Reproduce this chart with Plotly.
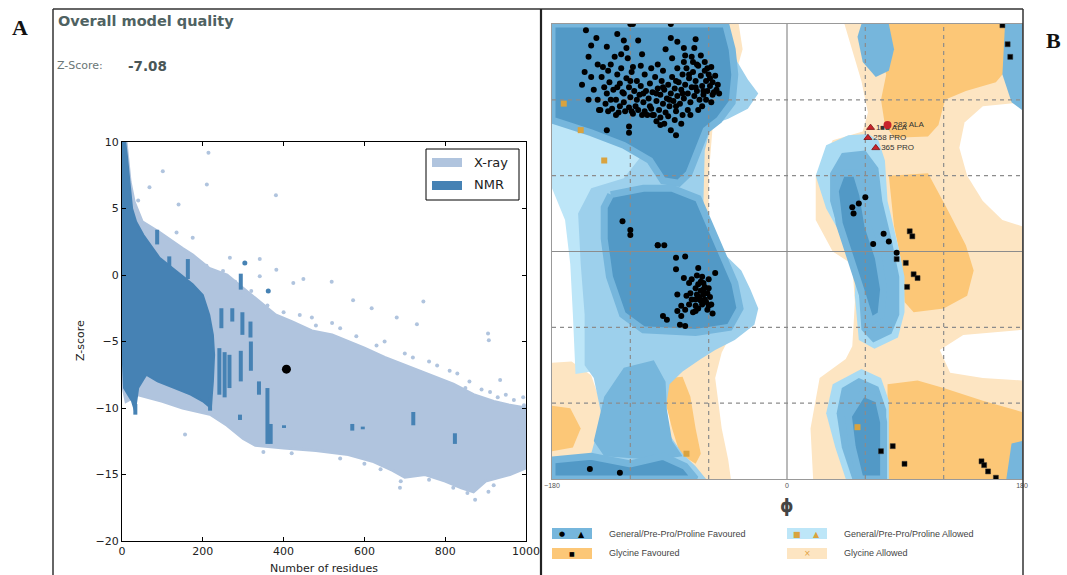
import plotly.graph_objects as go

W, H = 1067, 575

# ---------------- Panel A data (Z-score vs number of residues) ----------------
XRAY_UP_X = [0, 10, 20, 30, 50, 93, 150, 175, 216, 260, 300, 340, 380, 420, 470, 520, 560, 600, 650, 700, 760, 820, 870, 920, 960, 1000]
XRAY_UP_Y = [10, 10, 7, 5.5, 4, 3.2, 2, 1.5, 0.5, 0, -1, -2, -3, -3.5, -4.2, -4.5, -5, -5.5, -6.2, -6.8, -7.5, -8.2, -9, -9.5, -9.8, -10]
XRAY_LO_X = [1000, 960, 900, 870, 840, 800, 750, 700, 670, 620, 560, 480, 400, 330, 300, 260, 220, 150, 100, 40, 10, 0]
XRAY_LO_Y = [-14.5, -15, -15.5, -16.3, -16, -15.5, -15, -15.2, -14.7, -14, -13.5, -13.2, -13, -12.8, -12.3, -11.3, -10.5, -10, -9.5, -9, -9.5, -8]

NMR_X = [0, 8, 12, 18, 25, 35, 53, 93, 134, 175, 200, 216, 225, 228, 225, 220, 200, 170, 130, 88, 60, 40, 32, 25, 15, 5, 0]
NMR_Y = [10, 10, 9, 7, 5, 4, 3, 1.3, 0.3, -0.7, -1.5, -3, -4.5, -6, -8, -10, -9.5, -9, -8.5, -8, -7.5, -8.5, -10.2, -9.5, -9, -8.5, -5]

STREAK_X = [87, 117, 163, 294, 273, 298, 318, 246, 241, 254, 266, 294, 319, 339, 360, 368, 292, 218, 33, 570, 596, 401, 721, 824]
STREAK_TOP = [3.4, 1.4, 1.2, 0.1, -2.5, -2.8, -3.5, -2.5, -5.5, -5.8, -6, -5.7, -5, -8, -8.5, -11.2, -10.5, -9.2, -9.7, -11.2, -11.4, -11.3, -10.3, -11.9]
STREAK_BOT = [2.3, 0.4, -0.3, -1.1, -3.5, -4.5, -4.7, -4.0, -9, -9.2, -8.5, -8, -7.2, -9, -12.7, -12.7, -10.9, -10.2, -10.5, -11.7, -11.6, -11.5, -11.3, -12.7]

OUT_X = [214, 101, 68, 210, 381, 40, 140, 175, 135, 209, 267, 341, 382, 341, 424, 449, 519, 572, 618, 746, 680, 730, 906, 908,
         156, 688, 737, 811, 911, 936, 993, 907, 874, 688, 795, 300, 470, 520, 650, 760, 860, 950, 980,
         250, 280, 320, 360, 400, 440, 480, 540, 580, 630, 700, 720, 780, 830, 850, 890, 930, 970, 995,
         540, 600, 640, 690, 710, 760, 820, 855, 880, 920, 945, 985, 1000, 350, 420]
OUT_Y = [9.2, 7.8, 6.6, 6.8, 6.0, 5.6, 5.3, 2.8, 3.2, 0.7, 1.3, 1.2, 0.4, -0.1, -0.6, -0.3, -0.5, -1.9, -2.5, -2.0, -3.2, -3.7, -4.4, -4.9,
         -12.0, -7.2, -7.3, -7.2, -8.8, -7.9, -9.2, -16.3, -16.9, -16.0, -15.3, -1.5, -3.2, -3.6, -5.0, -6.5, -8.0, -9.0, -11.5,
         0.3, -0.5, -1.2, -2.3, -2.8, -3.0, -3.8, -4.0, -4.6, -5.3, -5.9, -6.2, -6.8, -7.4, -8.5, -8.6, -9.2, -9.4, -9.8,
         -13.8, -14.2, -14.6, -15.5, -15.0, -15.4, -16.0, -16.4, -15.8, -15.8, -15.0, -14.6, -14.0, -13.3, -13.4]
NMR_OUT_X = [304, 362]
NMR_OUT_Y = [0.9, -1.2]

MODEL_X = [407]
MODEL_Y = [-7.08]

A_XTICKS = [0, 200, 400, 600, 800, 1000]
A_YTICKS = [10, 5, 0, -5, -10, -15, -20]

# ---------------- Panel B data (Ramachandran plot) ----------------
GA_RIGHT = [(44, 180), (180, 180), (180, -180), (20, -180), (18, -140), (25, -100), (45, -85), (50, -75), (52, -40), (50, -10),
            (35, 0), (22, 25), (22, 60), (35, 88), (58, 95), (62, 110), (57, 135), (50, 160)]
GA_LEFT = [(-56, 180), (-37, 180), (-34, 160), (-45, 120), (-57, 98), (-60, 60), (-60, 20), (-50, -20), (-40, -60), (-50, -80),
           (-55, -100), (-50, -140), (-45, -165), (-43, -180), (-90, -180), (-90, 180)]
GA_LEFT_BOTTOM = [(-180, -88), (-165, -87), (-150, -98), (-140, -128), (-146, -160), (-180, -166)]
WHITE_RIGHT_1 = [(180, 118), (150, 115), (136, 102), (132, 82), (138, 60), (150, 40), (165, 25), (180, 20)]
WHITE_RIGHT_2 = [(180, -62), (135, -66), (117, -78), (125, -96), (150, -100), (180, -102)]

GF_UP_RIGHT = [(68, 180), (172, 180), (173, 150), (160, 134), (137, 127), (121, 120), (116, 100), (108, 91), (82, 90), (75, 100),
               (72, 120), (76, 140), (70, 165)]
GF_MID_RIGHT = [(78, 60), (108, 62), (122, 35), (137, 5), (143, -15), (138, -35), (120, -45), (97, -48), (90, -40), (88, -10), (82, 20)]
GF_LOW_RIGHT = [(77, -105), (100, -102), (120, -108), (150, -118), (180, -127), (180, -180), (77, -180)]
GF_LEFT_BOTTOM = [(-180, -122), (-166, -124), (-158, -140), (-164, -155), (-180, -158)]
GF_LEFT_STRIP = [(-90, -100), (-80, -99), (-74, -115), (-70, -140), (-66, -160), (-70, -168), (-82, -160), (-88, -140), (-93, -120)]

CY_LEFT = [(-180, 108), (-115, 100), (-105, 80), (-112, 60), (-140, 52), (-150, 45), (-150, -95), (-162, -97), (-164, -50),
           (-166, -10), (-170, 25), (-180, 50)]
LB_LEFT = [(-180, 180), (-48, 180), (-44, 165), (-38, 150), (-30, 136), (-22, 125), (-30, 113), (-45, 105), (-58, 100), (-63, 80),
           (-64, 40), (-64, 20), (-55, 5), (-45, -5), (-35, -15), (-28, -30), (-22, -45), (-25, -58), (-40, -70), (-55, -78),
           (-66, -85), (-80, -95), (-90, -105), (-93, -125), (-90, -145), (-80, -160), (-70, -170), (-62, -180), (-180, -180),
           (-180, -163), (-150, -160), (-142, -130), (-148, -100), (-155, -90), (-155, -50), (-158, -10), (-160, 30), (-150, 50),
           (-125, 58), (-112, 75), (-118, 98), (-180, 108)]
MD_BRIDGE = [(-148, -150), (-140, -115), (-125, -92), (-102, -86), (-93, -103), (-92, -125), (-88, -150), (-80, -162), (-100, -165),
             (-140, -162)]
DK_BETA = [(-180, 180), (-47, 180), (-42, 160), (-40, 140), (-42, 118), (-52, 104), (-62, 96), (-68, 80), (-75, 62), (-83, 54),
           (-95, 56), (-105, 72), (-125, 84), (-150, 94), (-180, 104)]
DK_ALPHA = [(-135, 45), (-110, 50), (-88, 50), (-68, 42), (-58, 18), (-48, -5), (-40, -25), (-36, -45), (-44, -60), (-70, -64),
            (-110, -62), (-126, -50), (-136, -20), (-140, 10), (-140, 35)]
DK_BAND = [(-180, -165), (-150, -162), (-120, -168), (-95, -162), (-78, -170), (-70, -180), (-180, -180)]

LB_RIGHT_UP = [(47, 92), (62, 93), (70, 88), (75, 72), (77, 40), (85, 5), (90, -20), (90, -48), (85, -68), (67, -77), (55, -70),
               (52, -35), (53, -10), (42, 12), (30, 34), (22, 60), (30, 84)]
MD_RIGHT_UP = [(42, 78), (60, 80), (70, 66), (73, 40), (80, 10), (86, -20), (86, -50), (80, -65), (66, -72), (57, -62), (55, -32),
               (52, -8), (40, 14), (33, 40), (33, 62)]
DK_RIGHT_UP = [(42, 62), (53, 62), (58, 45), (62, 20), (70, -5), (74, -30), (72, -50), (64, -55), (58, -35), (50, -8), (40, 22), (37, 48)]
LB_RIGHT_LOW = [(57, -93), (72, -100), (78, -118), (78, -180), (45, -180), (37, -155), (30, -128), (35, -105)]
MD_RIGHT_LOW = [(55, -100), (70, -107), (76, -125), (76, -180), (50, -180), (42, -155), (38, -128), (42, -108)]
DK_RIGHT_LOW = [(58, -112), (70, -117), (74, -135), (74, -180), (56, -180), (50, -155), (47, -130)]
MD_TOP_OVAL = [(57, 180), (78, 180), (82, 160), (78, 143), (68, 138), (58, 150), (54, 170)]
MD_EDGE = [(167, 180), (180, 180), (180, 112), (172, 118), (165, 140), (166, 165)]
MD_CORNER = [(172, -152), (180, -150), (180, -180), (168, -180)]

GRID_B = [-120, -60, 60, 120]

GEN_PHI = [-154, -120, -118, -89, -146, -130, -125, -150, -138, -152, -155, -157, -145, -135, -132, -127, -123, -114, -122, -118,
           -111, -89, -84, -93, -79, -70, -71, -99, -88, -79, -73, -69, -61, -59, -54, -64, -57,
           -142, -140, -138, -136, -133, -131, -130, -128, -126, -125, -123, -121, -120, -119, -117, -116, -115, -113, -112, -110,
           -109, -108, -106, -105, -104, -103, -101, -100, -99, -98, -97, -96, -95, -94, -93, -92, -91, -90, -89, -88, -87, -86,
           -85, -84, -83, -82, -81, -80, -79, -78, -77, -76, -75, -74, -73, -72, -71, -70, -69, -68, -67, -66, -65, -64, -63,
           -62, -61, -60, -59, -58, -57, -56, -55, -53, -52, -145, -148, -143, -139, -134, -129, -127, -124, -118, -114, -107,
           -102, -97, -91, -86, -80, -76, -72, -66, -63, -78, -84, -95, -104, -112, -137, -141, -150, -128, -121, -111, -100,
           -94, -120, -110, -100, -90, -80, -70, -65, -74, -85, -105, -115, -125, -135, -130, -95, -85, -75, -62, -68, -58, -152,
           -144, -137, -131, -138, -121, -121, -103, -97, -89, -81, -85, -119, -109,
           -126, -120, -120, -99, -94,
           -99, -85, -78, -85, -68, -55, -79, -65, -66, -63, -70, -60, -84, -74, -69, -64, -59, -73, -66, -75, -70, -81, -60,
           -84, -78, -70, -57, -95, -92, -81, -82, -78, -64, -61, -68, -73, -62, -65, -67, -63, -68, -61, -66, -70, -72, -58,
           -64, -60, -69, -75, -77,
           -151, -128,
           60, 55, 50, 51, 74, 78, 66, 84]
GEN_PSI = [175, 180, 180, 180, 169, 172, 167, 163, 162, 154, 142, 132, 148, 148, 154, 156, 161, 167, 153, 146,
           156, 169, 166, 160, 161, 168, 161, 148, 153, 150, 154, 148, 145, 137, 128, 127, 124,
           138, 130, 125, 134, 128, 120, 140, 133, 126, 118, 137, 130, 122, 142, 127, 115, 135, 124, 131, 118,
           140, 127, 121, 133, 113, 126, 138, 119, 129, 112, 124, 135, 117, 128, 110, 121, 132, 115, 125, 138, 119, 129,
           111, 123, 134, 117, 128, 140, 121, 132, 145, 125, 137, 118, 130, 142, 123, 135, 127, 147, 120, 139, 131, 124, 143,
           135, 127, 140, 131, 146, 134, 126, 139, 132, 125, 120, 128, 112, 117, 113, 110, 145, 111, 109, 112, 108,
           108, 106, 107, 104, 108, 112, 150, 155, 150, 155, 145, 143, 145, 147, 143, 146, 138, 115, 114, 108, 103,
           101, 135, 125, 125, 120, 125, 130, 115, 108, 115, 115, 120, 125, 120, 130, 130, 135, 140, 120, 112, 118, 120,
           112, 111, 108, 96, 99, 94, 108, 100, 96, 101, 92, 111, 111,
           24, 17, 13, 5, 5,
           5, -5, -4, -14, -13, -17, -21, -20, -24, -28, -29, -29, -34, -33, -34, -34, -36, -38, -39, -42, -43, -43, -43,
           -47, -46, -47, -49, -51, -54, -51, -58, -59, -30, -33, -26, -22, -40, -42, -36, -38, -45, -46, -31, -38, -48, -42,
           -25, -22, -19, -25, -35,
           -172, -175,
           43, 38, 35, 30, 14, 8, 6, -1]
GLY_PHI = [94, 96, 84, 91, 97, 100, 92, 165, 169, 171, 72, 81, 90, 149, 151, 154, 160]
GLY_PSI = [16, 12, -6, -9, -18, -21, -28, 179, 164, 154, -158, -154, -168, -166, -169, -174, -179]
ALLOW_PHI = [54, -77, -171, -158, -140]
ALLOW_PSI = [-139, -160, 117, 96, 72]
OUTLIER_TRI_PHI = [64, 62, 68]
OUTLIER_TRI_PSI = [98, 90, 82]
OUTLIER_TRI_LABEL = ["1■■ ALA", "258 PRO", "365 PRO"]
OUTLIER_DOT_PHI = [77]
OUTLIER_DOT_PSI = [100]
OUTLIER_DOT_LABEL = ["283 ALA"]

B_XTICKS = [-180, 0, 180]

# ---------------- colours ----------------
XRAY_COL = "#b0c4de"
NMR_COL = "#4682b4"
GA_COL = "#fde5c2"
GF_COL = "#fcc777"
CY_COL = "#bde6f8"
LB_COL = "#9dd0ec"
MD_COL = "#76b6dc"
DK_COL = "#5299c6"

fig = go.Figure()


def poly(pairs, color, xa="x2", ya="y2", lw=0, lcol=None):
    xs = [p[0] for p in pairs] + [pairs[0][0]]
    ys = [p[1] for p in pairs] + [pairs[0][1]]
    return go.Scatter(x=xs, y=ys, fill="toself", fillcolor=color, mode="lines",
                      line=dict(color=lcol or color, width=lw), hoverinfo="skip",
                      xaxis=xa, yaxis=ya, showlegend=False)


# ---- Panel A traces ----
xray_poly = list(zip(XRAY_UP_X + XRAY_LO_X, XRAY_UP_Y + XRAY_LO_Y))
fig.add_trace(poly(xray_poly, XRAY_COL, "x", "y", lw=3, lcol=XRAY_COL))
fig.add_trace(go.Scatter(x=OUT_X, y=OUT_Y, mode="markers", marker=dict(color=XRAY_COL, size=4),
                         xaxis="x", yaxis="y", hoverinfo="skip", showlegend=False))
fig.add_trace(poly(list(zip(NMR_X, NMR_Y)), NMR_COL, "x", "y", lw=2, lcol=NMR_COL))
sx, sy = [], []
for x0, t, b in zip(STREAK_X, STREAK_TOP, STREAK_BOT):
    sx += [x0, x0, None]
    sy += [t, b, None]
fig.add_trace(go.Scatter(x=sx, y=sy, mode="lines", line=dict(color=NMR_COL, width=4),
                         xaxis="x", yaxis="y", hoverinfo="skip", showlegend=False))
fig.add_trace(go.Scatter(x=NMR_OUT_X, y=NMR_OUT_Y, mode="markers", marker=dict(color=NMR_COL, size=5),
                         xaxis="x", yaxis="y", hoverinfo="skip", showlegend=False))
fig.add_trace(go.Scatter(x=MODEL_X, y=MODEL_Y, mode="markers", marker=dict(color="black", size=9),
                         xaxis="x", yaxis="y", hoverinfo="skip", showlegend=False))

# ---- Panel B region fills ----
for reg in [GA_RIGHT, GA_LEFT, GA_LEFT_BOTTOM]:
    fig.add_trace(poly(reg, GA_COL))
for reg in [WHITE_RIGHT_1, WHITE_RIGHT_2]:
    fig.add_trace(poly(reg, "white"))
for reg in [GF_UP_RIGHT, GF_MID_RIGHT, GF_LOW_RIGHT, GF_LEFT_BOTTOM, GF_LEFT_STRIP]:
    fig.add_trace(poly(reg, GF_COL))
fig.add_trace(poly(CY_LEFT, CY_COL))
for reg in [LB_LEFT, LB_RIGHT_UP, LB_RIGHT_LOW]:
    fig.add_trace(poly(reg, LB_COL if reg is LB_LEFT else "#a9dbf3"))
for reg in [MD_BRIDGE, MD_RIGHT_UP, MD_RIGHT_LOW, MD_TOP_OVAL, MD_EDGE, MD_CORNER]:
    fig.add_trace(poly(reg, MD_COL))
for reg in [DK_BETA, DK_ALPHA, DK_BAND, DK_RIGHT_UP, DK_RIGHT_LOW]:
    fig.add_trace(poly(reg, DK_COL, lw=7, lcol=MD_COL))

# grid lines for panel B
gx, gy = [], []
for g in GRID_B:
    gx += [g, g, None, -180, 180, None]
    gy += [-180, 180, None, g, g, None]
fig.add_trace(go.Scatter(x=gx, y=gy, mode="lines", line=dict(color="#8c8c8c", width=1.2, dash="4px,4px"),
                         xaxis="x2", yaxis="y2", hoverinfo="skip", showlegend=False))
fig.add_trace(go.Scatter(x=[0, 0, None, -180, 180], y=[-180, 180, None, 0, 0], mode="lines",
                         line=dict(color="#8c8c8c", width=1.2), xaxis="x2", yaxis="y2",
                         hoverinfo="skip", showlegend=False))

# markers panel B
fig.add_trace(go.Scatter(x=GEN_PHI, y=GEN_PSI, mode="markers", marker=dict(color="black", size=6),
                         xaxis="x2", yaxis="y2", hoverinfo="skip", showlegend=False))
fig.add_trace(go.Scatter(x=GLY_PHI, y=GLY_PSI, mode="markers",
                         marker=dict(color="black", size=5, symbol="square", line=dict(color="#333", width=0.5)),
                         xaxis="x2", yaxis="y2", hoverinfo="skip", showlegend=False))
fig.add_trace(go.Scatter(x=ALLOW_PHI, y=ALLOW_PSI, mode="markers",
                         marker=dict(color="#d9a33f", size=6, symbol="square"),
                         xaxis="x2", yaxis="y2", hoverinfo="skip", showlegend=False))
fig.add_trace(go.Scatter(x=OUTLIER_TRI_PHI, y=OUTLIER_TRI_PSI, mode="markers+text",
                         marker=dict(color="#c8232b", size=7, symbol="triangle-up", line=dict(color="#7a1010", width=0.8)),
                         text=OUTLIER_TRI_LABEL, textposition="middle right",
                         textfont=dict(family="Liberation Sans", size=8, color="#333"),
                         xaxis="x2", yaxis="y2", hoverinfo="skip", showlegend=False))
fig.add_trace(go.Scatter(x=OUTLIER_DOT_PHI, y=OUTLIER_DOT_PSI, mode="markers+text",
                         marker=dict(color="#c8232b", size=8),
                         text=OUTLIER_DOT_LABEL, textposition="middle right",
                         textfont=dict(family="Liberation Sans", size=8, color="#333"),
                         xaxis="x2", yaxis="y2", hoverinfo="skip", showlegend=False))


def px(x):
    return x / W


def py(y):
    return 1 - y / H


axis_font = dict(family="DejaVu Sans", size=11, color="#222")
fig.update_layout(
    width=W, height=H, margin=dict(l=0, r=0, t=0, b=0, autoexpand=False), autosize=False,
    paper_bgcolor="white", plot_bgcolor="white", showlegend=False,
    xaxis=dict(domain=[px(122), px(526)], range=[0, 1000], tickvals=A_XTICKS, ticks="inside", ticklen=4,
               tickcolor="black", showline=True, linecolor="black", linewidth=1, mirror="allticks",
               showgrid=False, zeroline=False, tickfont=axis_font, anchor="y", automargin=False),
    yaxis=dict(domain=[py(541), py(142)], range=[-20, 10], tickvals=A_YTICKS, ticks="inside", ticklen=4,
               tickcolor="black", showline=True, linecolor="black", linewidth=1, mirror="allticks",
               showgrid=False, zeroline=False, tickfont=axis_font, anchor="x", automargin=False),
    xaxis2=dict(domain=[px(552), px(1022)], range=[-180, 180], tickvals=B_XTICKS, ticks="",
                showline=True, linecolor="#999", linewidth=1, mirror=True, showgrid=False, zeroline=False,
                tickfont=dict(family="Liberation Sans", size=7, color="#555"), anchor="y2", automargin=False),
    yaxis2=dict(domain=[py(479), py(24)], range=[-180, 180], showticklabels=False, ticks="",
                showline=True, linecolor="#999", linewidth=1, mirror=True, showgrid=False, zeroline=False,
                anchor="x2", automargin=False),
)

shapes = []
border = dict(color="#333", width=1.5)
shapes.append(dict(type="line", xref="paper", yref="paper", x0=px(53), x1=px(53), y0=py(9), y1=py(575), line=border))
shapes.append(dict(type="line", xref="paper", yref="paper", x0=px(53), x1=px(1023), y0=py(9), y1=py(9), line=border))
shapes.append(dict(type="line", xref="paper", yref="paper", x0=px(541), x1=px(541), y0=py(9), y1=py(575),
                   line=dict(color="#222", width=2.2)))
shapes.append(dict(type="line", xref="paper", yref="paper", x0=px(1023), x1=px(1023), y0=py(9), y1=py(575), line=border))

# legend panel A
shapes.append(dict(type="rect", xref="paper", yref="paper", x0=px(426), x1=px(519), y0=py(200), y1=py(149),
                   line=dict(color="black", width=1), fillcolor="white"))
shapes.append(dict(type="rect", xref="paper", yref="paper", x0=px(432), x1=px(462), y0=py(167), y1=py(158),
                   line=dict(width=0), fillcolor=XRAY_COL))
shapes.append(dict(type="rect", xref="paper", yref="paper", x0=px(432), x1=px(462), y0=py(190), y1=py(181),
                   line=dict(width=0), fillcolor=NMR_COL))

# legend panel B swatches
for (x0, y0, col) in [(552, 528, MD_COL), (787, 528, CY_COL), (552, 548, GF_COL), (787, 548, GA_COL)]:
    shapes.append(dict(type="rect", xref="paper", yref="paper", x0=px(x0), x1=px(x0 + 40), y0=py(y0 + 11), y1=py(y0),
                       line=dict(width=0), fillcolor=col))
fig.update_layout(shapes=shapes)

ann = []


def text(x, y, s, size, color="#222", family="DejaVu Sans", xanchor="left", bold=False, angle=0):
    ann.append(dict(x=px(x), y=py(y), xref="paper", yref="paper", text=("<b>%s</b>" % s) if bold else s,
                    showarrow=False, xanchor=xanchor, yanchor="middle", textangle=angle,
                    font=dict(family=family, size=size, color=color)))


text(20, 28, "A", 22, "#111", "Liberation Serif", "center", bold=True)
text(1053, 40, "B", 22, "#111", "Liberation Serif", "center", bold=True)
text(56, 21, "Overall model quality", 14.5, "#4f6262", bold=True)
text(55, 66, "Z-Score:", 11, "#6a7676")
text(126, 66, "-7.08", 13.5, "#4a5656", bold=True)
text(324, 568, "Number of residues", 11, "#222", xanchor="center")
text(80, 341, "Z-score", 11, "#222", xanchor="center", angle=-90)
text(472, 163, "X-ray", 13, "#222")
text(472, 185, "NMR", 13, "#222")
text(787, 506, "ϕ", 17, "#444", xanchor="center", bold=True)
text(607, 534, "General/Pre-Pro/Proline Favoured", 9, "#444", "Liberation Sans")
text(842, 534, "General/Pre-Pro/Proline Allowed", 9, "#444", "Liberation Sans")
text(607, 553, "Glycine Favoured", 9, "#444", "Liberation Sans")
text(842, 553, "Glycine Allowed", 9, "#444", "Liberation Sans")
# legend marker glyphs panel B
text(562, 534, "●", 7, "black", "DejaVu Sans", "center")
text(581, 534, "▲", 8, "black", "DejaVu Sans", "center")
text(797, 534, "■", 8, "#d9a33f", "DejaVu Sans", "center")
text(816, 534, "▲", 8, "#d9a33f", "DejaVu Sans", "center")
text(572, 553, "■", 6, "black", "DejaVu Sans", "center")
text(807, 553, "×", 8, "#e0a040", "DejaVu Sans", "center")
fig.update_layout(annotations=ann)

fig.write_html("out.html", config={"displayModeBar": False},
               post_script="document.body.style.margin='0';document.body.style.padding='0';"
                           "document.documentElement.style.overflow='hidden';document.body.style.overflow='hidden';")
